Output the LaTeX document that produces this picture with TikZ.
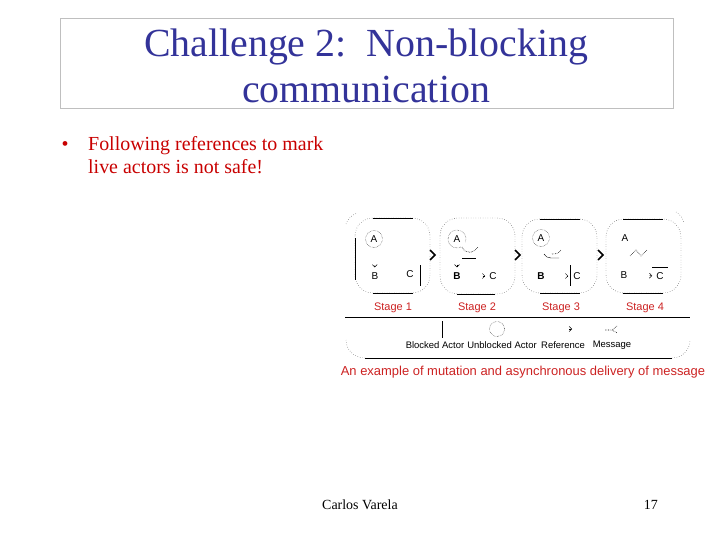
\documentclass[tikz,border=0pt]{standalone}
\usepackage{fontspec}
\setmainfont{Liberation Serif}
\setsansfont{Liberation Sans}
\usetikzlibrary{arrows.meta}
\definecolor{titleblue}{RGB}{51,51,153}
\definecolor{bulletred}{RGB}{200,0,0}
\definecolor{figred}{RGB}{204,34,34}

\begin{document}
\begin{tikzpicture}[x=1bp,y=-1bp]
					\tikzstyle{actor} = [font=\sffamily\fontsize{10}{10}\selectfont,inner sep=1pt]
					\tikzstyle{unblocked} = [actor,circle,draw,densely dotted,minimum size=17bp]
					\tikzstyle{ref} = [-{Straight Barb[length=2.5bp,width=5bp]},line width=0.5pt]
					\tikzstyle{bar} = [line width=0.8pt]
					\tikzstyle{msg} = [densely dotted,line width=0.6pt]
					\tikzstyle{stagearrow} = [line width=1.6pt,line join=miter]
					\tikzstyle{stagelabel} = [text=figred,font=\sffamily\fontsize{11}{11}\selectfont]
					\tikzstyle{legend} = [font=\sffamily\fontsize{9.5}{9.5}\selectfont,inner sep=0pt]
					\useasboundingbox (0,0) rectangle (720,540);
					% title
					\draw[gray!50,line width=0.8pt] (60,18) rectangle (673,108);
					\node[anchor=base,text=titleblue,font=\fontsize{40}{43}\selectfont] (title1) at (366,57) {Challenge 2:\ \ Non-blocking};
					\node[anchor=base,text=titleblue,font=\fontsize{40}{43}\selectfont] (title2) at (366,103) {communication};
					% bullet
					\node[anchor=base,text=bulletred,font=\fontsize{20}{24}\selectfont] (dot) at (65,151) {\textbullet};
					\node[anchor=base west,inner sep=0pt,text=bulletred,font=\fontsize{20}{24}\selectfont] (line1) at (88,151) {Following references to mark};
					\node[anchor=base west,inner sep=0pt,text=bulletred,font=\fontsize{20}{24}\selectfont] (line2) at (88,174) {live actors is not safe!};
					% stage 1
					\draw[dotted,rounded corners=18] (355,218) rectangle (430,293);
					\draw (373,218) -- (413,218);
					\draw (373,293) -- (413,293);
					\draw (355,238) -- (355,280);
					\draw[dotted] (346,224) arc (200:250:18);
					\node[unblocked] (a1) at (374,239) {A};
					\node[actor] (b1) at (375,276) {B};
					\node[actor] (c1) at (410,274) {C};
					\draw[bar] (420,265) -- (420,286);
					\draw[ref,shorten <=18bp,shorten >=4bp] (a1) -- (b1);
					\draw[stagearrow] (430,250) -- (435,255) -- (430,260);
					% stage 2
					\draw[dotted,rounded corners=18] (440,218) rectangle (515,294);
					\draw (457,294) -- (495,294);
					\node[actor] (a2) at (457,239) {A};
					\draw[densely dotted] (457,239) ++(20:9) arc (20:-300:9);
					\draw[msg] (462,247) .. controls (465,254) and (473,254) .. (478,247);
					\draw (462,258) -- (476,258);
					\node[actor,font=\sffamily\bfseries\fontsize{10}{10}\selectfont] (b2) at (457,276) {B};
					\node[actor] (c2) at (493,276) {C};
					\draw[ref,shorten <=21bp,shorten >=3bp] (b2) -- (c2);
					\draw[ref,shorten <=21bp,shorten >=4bp] (a2) -- (b2);
					\draw[stagearrow] (515,250) -- (520,255) -- (515,260);
					% stage 3
					\draw[dotted,rounded corners=18] (522,219) rectangle (597,293);
					\draw (540,219) -- (580,219);
					\draw (540,293) -- (580,293);
					\node[unblocked] (a3) at (541,238) {A};
					\draw (544,254) to[out=-60,in=180] (551,258) -- (559,258);
					\draw[msg] (552,254) to[out=0,in=-120] (561,250);
					\node[actor,font=\sffamily\bfseries\fontsize{10}{10}\selectfont] (b3) at (541,276) {B};
					\node[actor] (c3) at (577,276) {C};
					\draw[bar] (570,265) -- (570,286);
					\draw[ref,shorten <=21bp,shorten >=4bp] (b3) -- (c3);
					\draw[stagearrow] (598,250) -- (603,255) -- (598,260);
					% stage 4
					\draw[dotted,rounded corners=18] (606,219) rectangle (681,293);
					\draw (623,219) -- (663,219);
					\draw (623,293) -- (663,293);
					\draw[dotted] (676,212) arc (-60:-10:16);
					\node[actor] (a4) at (625,238) {A};
					\draw[msg] (630,256) -- (636,250) -- (641,256) -- (647,250);
					\node[actor] (b4) at (624,275) {B};
					\node[actor] (c4) at (660,276) {C};
					\draw[bar] (652,267) -- (668,267);
					\draw[ref,shorten <=21bp,shorten >=3bp] (b4) -- (c4);
					% stage labels
					\node[stagelabel] (s1) at (393,308) {Stage 1};
					\node[stagelabel] (s2) at (477,308) {Stage 2};
					\node[stagelabel] (s3) at (561,308) {Stage 3};
					\node[stagelabel] (s4) at (645,308) {Stage 4};
					% legend
					\draw (345,317) -- (690,317);
					\draw[bar] (442,321) -- (442,338);
					\draw[densely dotted] (497,329) circle (7.5);
					\draw[ref] (569,329) -- (572,329);
					\draw[msg] (605,330) -- (611,330) (617,326) -- (612,330) -- (617,333);
					\node[legend] (l1) at (435,345) {Blocked Actor};
					\node[legend] (l2) at (502,345) {Unblocked Actor};
					\node[legend] (l3) at (563,345) {Reference};
					\node[legend] (l4) at (612,345) {Message};
					\draw (365,358) -- (672,358);
					\draw[dotted] (346,340) to[out=-90,in=180] (365,358);
					\draw[dotted] (672,358) to[out=0,in=-90] (690,340);
					\node[text=figred,font=\sffamily\fontsize{13}{13}\selectfont] (caption) at (523,372) {An example of mutation and asynchronous delivery of message};
					% footer
					\node[anchor=base west,inner sep=0pt,font=\fontsize{14}{14}\selectfont] (author) at (322,509) {Carlos Varela};
					\node[anchor=base east,inner sep=0pt,font=\fontsize{14}{14}\selectfont] (page) at (658,509) {17};
\end{tikzpicture}
\end{document}
